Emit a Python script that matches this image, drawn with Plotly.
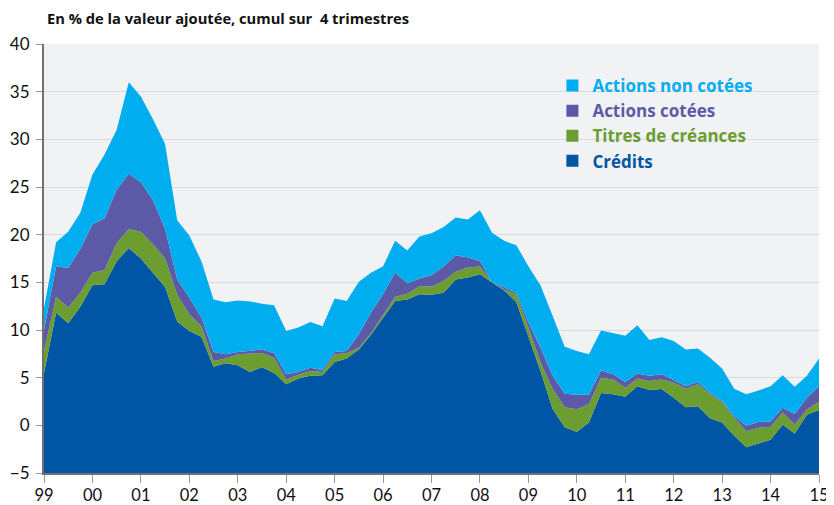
import numpy as np
import plotly.graph_objects as go

# Quarterly observations, 1999 Q1 .. 2015 Q1
START_YEAR = 1999
N_QUARTERS = 65
quarters = [START_YEAR + i / 4 for i in range(N_QUARTERS)]

credits = [5.5, 11.8, 10.7, 12.45, 14.7, 14.8, 17.2, 18.6, 17.5, 16.0,
           14.5, 10.9, 9.9, 9.3, 6.15, 6.5, 6.3, 5.6, 6.1, 5.5,
           4.3, 4.9, 5.2, 5.25, 6.65, 7.0, 7.95, 9.5, 11.3, 13.05,
           13.2, 13.75, 13.7, 13.9, 15.3, 15.5, 15.85, 15.0, 14.15, 12.95,
           9.4, 5.7, 1.75, -0.2, -0.7, 0.3, 3.4, 3.25, 3.0, 4.1,
           3.7, 3.8, 2.9, 1.9, 2.0, 0.75, 0.3, -1.1, -2.3, -1.9,
           -1.5, 0.05, -0.85, 1.1, 1.6]

titres_creances = [2.3, 1.7, 1.65, 1.45, 1.3, 1.5, 1.9, 2.0, 2.8, 3.0,
                   3.0, 2.8, 1.75, 1.1, 0.6, 0.5, 1.15, 1.95, 1.5, 1.6,
                   0.5, 0.4, 0.5, 0.35, 0.8, 0.6, 0.2, 0.15, 0.25, 0.45,
                   0.6, 0.85, 0.85, 1.25, 0.8, 1.05, 0.8, 0.0, 0.1, 0.8,
                   0.85, 0.95, 2.05, 2.1, 2.4, 1.9, 1.6, 1.55, 0.95, 0.8,
                   0.95, 1.0, 1.6, 1.95, 2.3, 2.5, 2.15, 1.9, 1.7, 1.65,
                   1.35, 1.3, 0.95, 0.6, 0.85]

actions_cotees = [2.2, 3.2, 4.15, 4.6, 5.1, 5.4, 5.6, 5.8, 5.2, 4.6,
                  3.1, 1.6, 1.75, 0.9, 0.95, 0.45, 0.25, 0.3, 0.35, 0.5,
                  0.55, 0.3, 0.35, 0.2, 0.25, 0.2, 1.4, 2.15, 2.2, 2.5,
                  1.1, 0.8, 1.2, 1.5, 1.75, 1.05, 0.6, 0.0, 0.2, 0.15,
                  0.55, 1.5, 1.4, 1.4, 1.5, 1.0, 0.75, 0.55, 0.6, 0.55,
                  0.55, 0.55, 0.25, 0.25, 0.25, 0.15, 0.1, 0.15, 0.55, 0.6,
                  0.55, 0.5, 1.1, 1.2, 1.65]

actions_non_cotees = [2.3, 2.5, 3.8, 3.8, 5.2, 6.7, 6.3, 9.6, 9.0, 8.5,
                      8.9, 6.2, 6.5, 5.9, 5.5, 5.45, 5.4, 5.15, 4.8, 5.0,
                      4.55, 4.65, 4.8, 4.6, 5.6, 5.25, 5.5, 4.2, 2.95, 3.35,
                      3.45, 4.4, 4.4, 4.15, 3.95, 4.0, 5.3, 5.2, 4.9, 5.0,
                      5.9, 6.55, 6.3, 4.95, 4.6, 4.25, 4.2, 4.3, 4.85, 5.05,
                      3.75, 3.9, 4.1, 3.85, 3.5, 3.7, 3.4, 2.9, 3.3, 3.3,
                      3.7, 3.4, 2.85, 2.3, 2.9]

tick_years = list(range(1999, 2016))
tick_labels = ["99", "00", "01", "02", "03", "04", "05", "06", "07", "08",
               "09", "10", "11", "12", "13", "14", "15"]

Y_MIN, Y_MAX = -5, 40
FONT = "Lato, 'Open Sans', sans-serif"
BOLD_FONT = "'Open Sans', Lato, sans-serif"

series = [  # bottom to top
    ("Crédits", credits, "#0055A5"),
    ("Titres de créances", titres_creances, "#6B9D30"),
    ("Actions cotées", actions_cotees, "#5C5AA6"),
    ("Actions non cotées", actions_non_cotees, "#00AEEF"),
]

fig = go.Figure()
# baseline at the bottom of the axis so the first area fills down to it
fig.add_trace(go.Scatter(x=quarters, y=np.full(N_QUARTERS, Y_MIN), mode="lines",
                         line=dict(width=0), showlegend=False, hoverinfo="skip"))
cum = np.zeros(N_QUARTERS)
for name, vals, color in series:
    cum = cum + np.array(vals)
    fig.add_trace(go.Scatter(x=quarters, y=cum.copy(), mode="lines", fill="tonexty",
                             fillcolor=color, line=dict(width=0, color=color),
                             showlegend=False, name=name))

# legend entries (square markers), top to bottom
for name, vals, color in reversed(series):
    fig.add_trace(go.Scatter(x=[None], y=[None], mode="markers",
                             marker=dict(symbol="square", size=12, color=color),
                             name=f"<b><span style='color:{color}'>{name}</span></b>",
                             showlegend=True))

fig.add_annotation(text="<b>En % de la valeur ajoutée, cumul sur \u00a04 trimestres</b>",
                   xref="paper", yref="paper", x=0, y=1, xanchor="left", yanchor="middle",
                   xshift=1, yshift=26, showarrow=False,
                   font=dict(family=BOLD_FONT, size=14.7, color="#111111"))

# the page body adds an 8 px offset, so the figure is 8 px smaller on each axis
fig.update_layout(
    width=826, height=497,
    margin=dict(l=36, r=15, t=36, b=32, autoexpand=False),
    paper_bgcolor="white",
    plot_bgcolor="#F1F2F4",
    font=dict(family=FONT, size=17, color="#111111"),
    showlegend=True,
    legend=dict(x=0.656, y=0.944, xanchor="left", yanchor="top",
                bgcolor="rgba(0,0,0,0)", traceorder="normal",
                font=dict(family=BOLD_FONT, size=17)),
    xaxis=dict(range=[1999, 2015], tickmode="array", tickvals=tick_years,
               ticktext=tick_labels, showgrid=False, zeroline=False,
               showline=True, linecolor="#707070", linewidth=2,
               ticks="outside", ticklen=8, tickcolor="#999999", tickwidth=1,
               automargin=False, ticklabelstandoff=-2,
               tickfont=dict(family=FONT, size=16.5, color="#111111")),
    yaxis=dict(range=[Y_MIN, Y_MAX], tickmode="linear", tick0=-5, dtick=5,
               showgrid=True, gridcolor="#D8D9DB", gridwidth=1, zeroline=False,
               showline=True, linecolor="#707070", linewidth=2,
               ticks="outside", ticklen=6, tickcolor="#999999", tickwidth=1,
               ticklabelstandoff=3, automargin=False,
               tickfont=dict(family=FONT, size=17, color="#111111")),
)

fig.write_html("out.html")
